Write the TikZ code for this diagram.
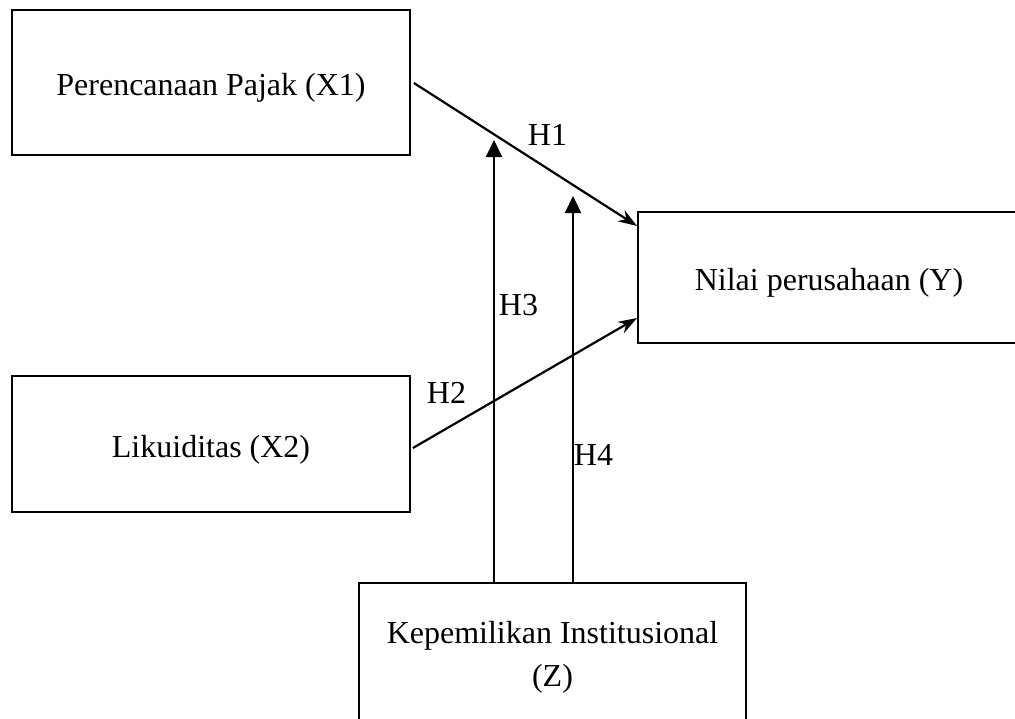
\documentclass[tikz,border=0pt]{standalone}
\usepackage{fontspec}
\setmainfont{Liberation Serif}
\usetikzlibrary{arrows.meta}
\begin{document}
\begin{tikzpicture}[x=1pt,y=-1pt,
  box/.style={draw=black,line width=1.8pt,inner sep=0pt,align=center,text height=33pt},
  conn/.style={line width=2.2pt,-{Stealth[length=19pt,width=13pt]}},
  vconn/.style={line width=2.2pt,-{Triangle[length=17pt,width=16pt]}},
  lbl/.style={inner sep=0pt},
  every node/.append style={font=\fontsize{32}{43}\selectfont}]
\useasboundingbox (0,0) rectangle (1015,718);
\clip (0,0) rectangle (1015,718);
\node[box,minimum width=398pt,minimum height=145pt] (x1) at (211,82.5) {Perencanaan Pajak (X1)};
\node[box,minimum width=398pt,minimum height=136pt] (x2) at (211,444) {Likuiditas (X2)};
\node[box,minimum width=382pt,minimum height=131pt] (y) at (829,277.5) {Nilai perusahaan (Y)};
\node[box,minimum width=387pt,minimum height=177pt] (z) at (552.5,671.5) {};
\node[lbl,align=center] (zt) at (552.5,657) {Kepemilikan Institusional\\(Z)};
\coordinate (h3end) at (494,140);
\coordinate (h4end) at (573,196);
\draw[conn] ([xshift=3pt,yshift=-0.5pt]x1.east) -- ([yshift=51.5pt]y.west);
\draw[conn] ([xshift=2pt,yshift=-4pt]x2.east) -- ([yshift=-40.5pt]y.west);
\draw[vconn] ([xshift=-58.5pt]z.north) -- (h3end);
\draw[vconn] ([xshift=20.5pt]z.north) -- (h4end);
\node[lbl] (h1) at (547.5,135) {H1};
\node[lbl] (h2) at (446.5,393) {H2};
\node[lbl] (h3) at (518.5,305) {H3};
\node[lbl] (h4) at (593.5,454.5) {H4};
\end{tikzpicture}
\end{document}
